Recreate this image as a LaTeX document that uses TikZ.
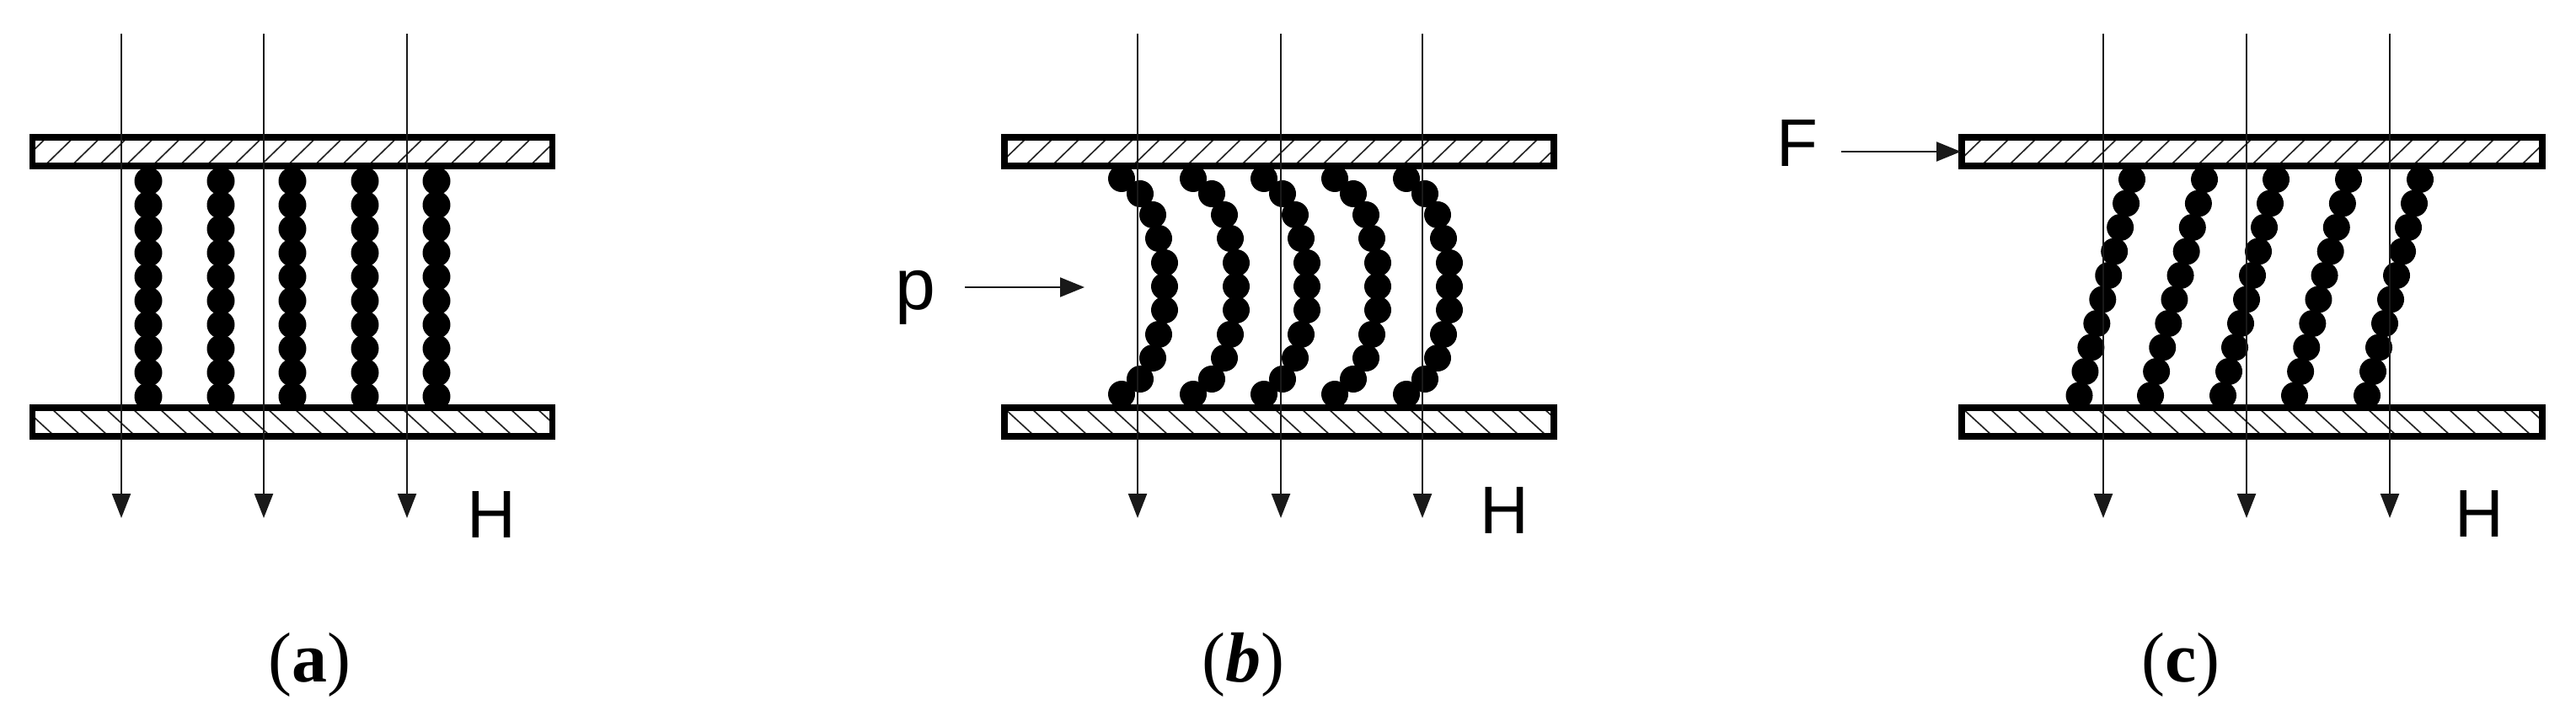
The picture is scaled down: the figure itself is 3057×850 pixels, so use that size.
\documentclass[tikz,border=0pt]{standalone}
\usepackage{fontspec}
\setmainfont{Liberation Sans}
\newfontfamily\capfont{Liberation Serif}
\usetikzlibrary{arrows.meta}
\tikzset{
  platebox/.style={draw=black,line width=3.75pt,line join=miter},
  hatchline/.style={draw=black!85,line width=0.85pt},
  bead/.style={fill=black},
  fieldline/.style={draw=black!90,line width=1.2pt,-{Triangle[length=14.5pt,width=11pt]}},
  forcearrow/.style={draw=black!90,line width=1.1pt,-{Triangle[length=14.5pt,width=11.5pt]}},
  biglabel/.style={inner sep=0pt,font=\fontsize{40pt}{40pt}\selectfont},
  caplabel/.style={inner sep=0pt,font=\capfont\fontsize{42pt}{42pt}\selectfont}
}
% #1 left, #2 right, #3 first hatch foot top plate, #4 first hatch head bottom plate
\newcommand{\plates}[4]{%
  \begin{scope}
    \clip (#1,163) rectangle (#2,197);
    \pgfmathsetmacro{\nxa}{#3+32}
    \foreach \s in {#3,\nxa,...,#2} \draw[hatchline] (\s,197) -- (\s+35,163);
  \end{scope}
  \begin{scope}
    \clip (#1,484) rectangle (#2,518);
    \pgfmathsetmacro{\nxb}{#4+32}
    \foreach \s in {#4,\nxb,...,#2} \draw[hatchline] (\s,484) -- (\s+37,518);
  \end{scope}
  \draw[platebox] (#1,163) rectangle (#2,197);
  \draw[platebox] (#1,484) rectangle (#2,518);
}
\begin{document}
\begin{tikzpicture}[x=0.5pt,y=-0.5pt]
\useasboundingbox (0,0) rectangle (3057,850);
% ---------- panel a
\foreach \cx in {176,262,347,433,518}
  \foreach \i in {0,...,9}
    \fill[bead] (\cx,{215+\i*28.4}) circle[radius=16.5];
\plates{38.5}{655.5}{20.6}{28}
\foreach \n/\lx in {1/144,2/313,3/483}{
  \coordinate (at\n) at (\lx,40);
  \coordinate (ab\n) at (\lx,615);
  \draw[fieldline] (at\n) -- (ab\n);
}
\node[biglabel] (Ha) at (583,611) {H};
\node[caplabel] (capa) at (367,789) {(\textbf{a})};
% ---------- panel b
\foreach \cx in {1331,1416,1500,1584,1669}
  \foreach \dx/\yy in {0/212,22/230,37/255,44/283,51/312,51/340,51/368,44/397,37/425,22/450,0/468}
    \fill[bead] ({\cx+\dx},\yy) circle[radius=16];
\plates{1192}{1844}{1184}{1191}
\foreach \n/\lx in {1/1350,2/1520,3/1688}{
  \coordinate (bt\n) at (\lx,40);
  \coordinate (bb\n) at (\lx,615);
  \draw[fieldline] (bt\n) -- (bb\n);
}
\node[biglabel] (Hb) at (1785,606) {H};
\node[biglabel,font=\fontsize{43pt}{43pt}\selectfont,anchor=base] (plabel) at (1086,367) {p};
\coordinate (pend) at (1287,341);
\draw[forcearrow] (plabel.east |- pend) ++(35,0) coordinate (pstart) -- (pend);
\node[caplabel] (capb) at (1475,789) {(\textbf{\itshape b})};
% ---------- panel c
\foreach \cb/\ct in {2467.5/2530,2552/2616,2638/2701,2723/2787,2809/2872}
  \foreach \i in {0,...,9}
    \fill[bead] ({\ct+(\cb-\ct)*\i/9},{213+\i*28.5}) circle[radius=16];
\plates{2328}{3017}{2319}{2328}
\foreach \n/\lx in {1/2496,2/2666,3/2836}{
  \coordinate (ct\n) at (\lx,40);
  \coordinate (cb\n) at (\lx,615);
  \draw[fieldline] (ct\n) -- (cb\n);
}
\node[biglabel] (Hc) at (2942,610) {H};
\node[biglabel] (Flabel) at (2133,170) {F};
\coordinate (fstart) at (2185,180);
\coordinate (fend) at (2327,180);
\draw[forcearrow] (fstart) -- (fend);
\node[caplabel] (capc) at (2588,789) {(\textbf{c})};
\end{tikzpicture}
\end{document}
